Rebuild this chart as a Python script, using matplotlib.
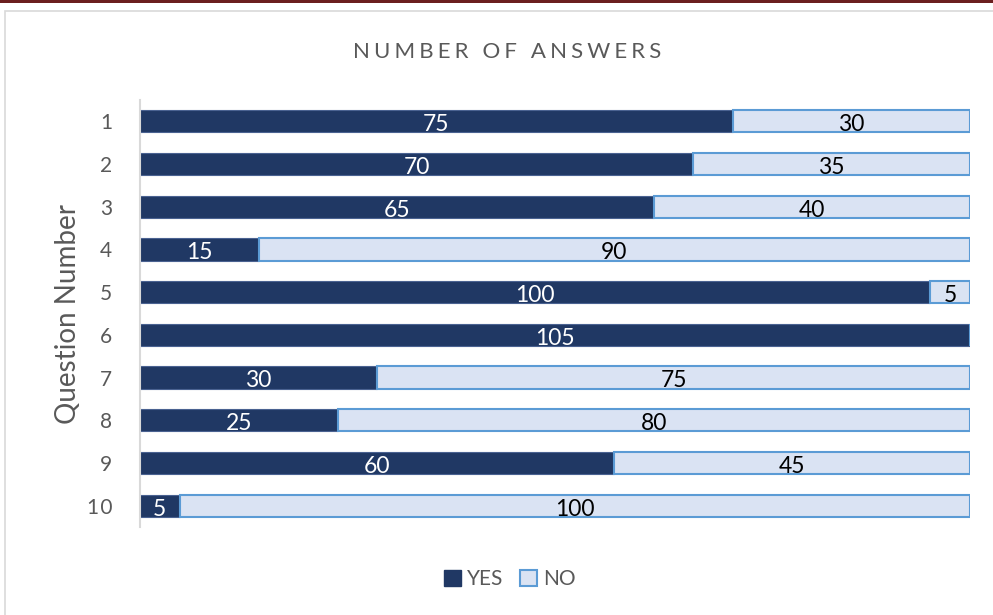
import matplotlib.pyplot as plt
import numpy as np
from matplotlib.patches import Rectangle, Patch
from matplotlib import rcParams

rcParams['font.family'] = ['Lato', 'DejaVu Sans']

questions = ['1', '2', '3', '4', '5', '6', '7', '8', '9', '1\u200a0']
yes_counts = [75, 70, 65, 15, 100, 105, 30, 25, 60, 5]
no_counts = [30, 35, 40, 90, 5, 0, 75, 80, 45, 100]

YES_COLOR = '#203864'
NO_COLOR = '#dae3f3'
NO_EDGE = '#5b9bd5'
GREY = '#595959'

fig = plt.figure(figsize=(9.93, 6.15), dpi=100)

# dark band along the top and the light chart frame
fig.patches.append(Rectangle((0, 1 - 3 / 615), 1, 3 / 615, transform=fig.transFigure,
                             facecolor='#6b1f1f', edgecolor='none', zorder=0))
fig.patches.append(Rectangle((5 / 993, -0.05), 1.1, 1 - 11 / 615 + 0.05,
                             transform=fig.transFigure, facecolor='none',
                             edgecolor='#d9d9d9', lw=1.2, zorder=0))

ax = fig.add_axes([140 / 993, 1 - 527 / 615, 830 / 993, 427 / 615])

y = np.arange(len(questions))
yes = np.array(yes_counts)
no = np.array(no_counts)

ax.barh(y, yes, height=0.52, color=YES_COLOR, edgecolor='#4a6291', lw=0.8)
ax.barh(y, no, left=yes, height=0.52, color=NO_COLOR, edgecolor=NO_EDGE, lw=1.5)

for i in range(len(y)):
    if yes[i] > 0:
        ax.text(yes[i] / 2, y[i] + 0.08, str(yes[i]), ha='center', va='center',
                color='white', fontsize=16.5)
    if no[i] > 0:
        ax.text(yes[i] + no[i] / 2, y[i] + 0.08, str(no[i]), ha='center', va='center',
                color='black', fontsize=16.5)

ax.set_xlim(0, 105)
ax.set_ylim(len(y) - 0.5, -0.5)
ax.set_yticks(y)
ax.set_yticklabels(questions, fontsize=15, color=GREY)
ax.set_xticks([])
ax.tick_params(axis='y', length=0, pad=20)
for s in ['top', 'right', 'bottom']:
    ax.spines[s].set_visible(False)
ax.spines['left'].set_color('#d9d9d9')
ax.spines['left'].set_linewidth(1.5)

ax.set_ylabel('Question Number', fontsize=20, color=GREY, labelpad=4)

title = '\u2009\u200a'.join('NUMBER OF ANSWERS')
fig.text(507 / 993, 1 - 52 / 615, title, ha='center', va='center',
         fontsize=16, color=GREY)

handles = [Patch(facecolor=YES_COLOR, edgecolor=YES_COLOR, label='YES'),
           Patch(facecolor=NO_COLOR, edgecolor=NO_EDGE, lw=1.5, label='NO')]
fig.legend(handles=handles, loc='center', bbox_to_anchor=(510 / 993, 1 - 579 / 615),
           ncol=2, frameon=False, fontsize=15, handlelength=0.8, handleheight=0.8,
           handletextpad=0.3, columnspacing=0.8, labelcolor=GREY)

fig.savefig('out.png', dpi=100)
